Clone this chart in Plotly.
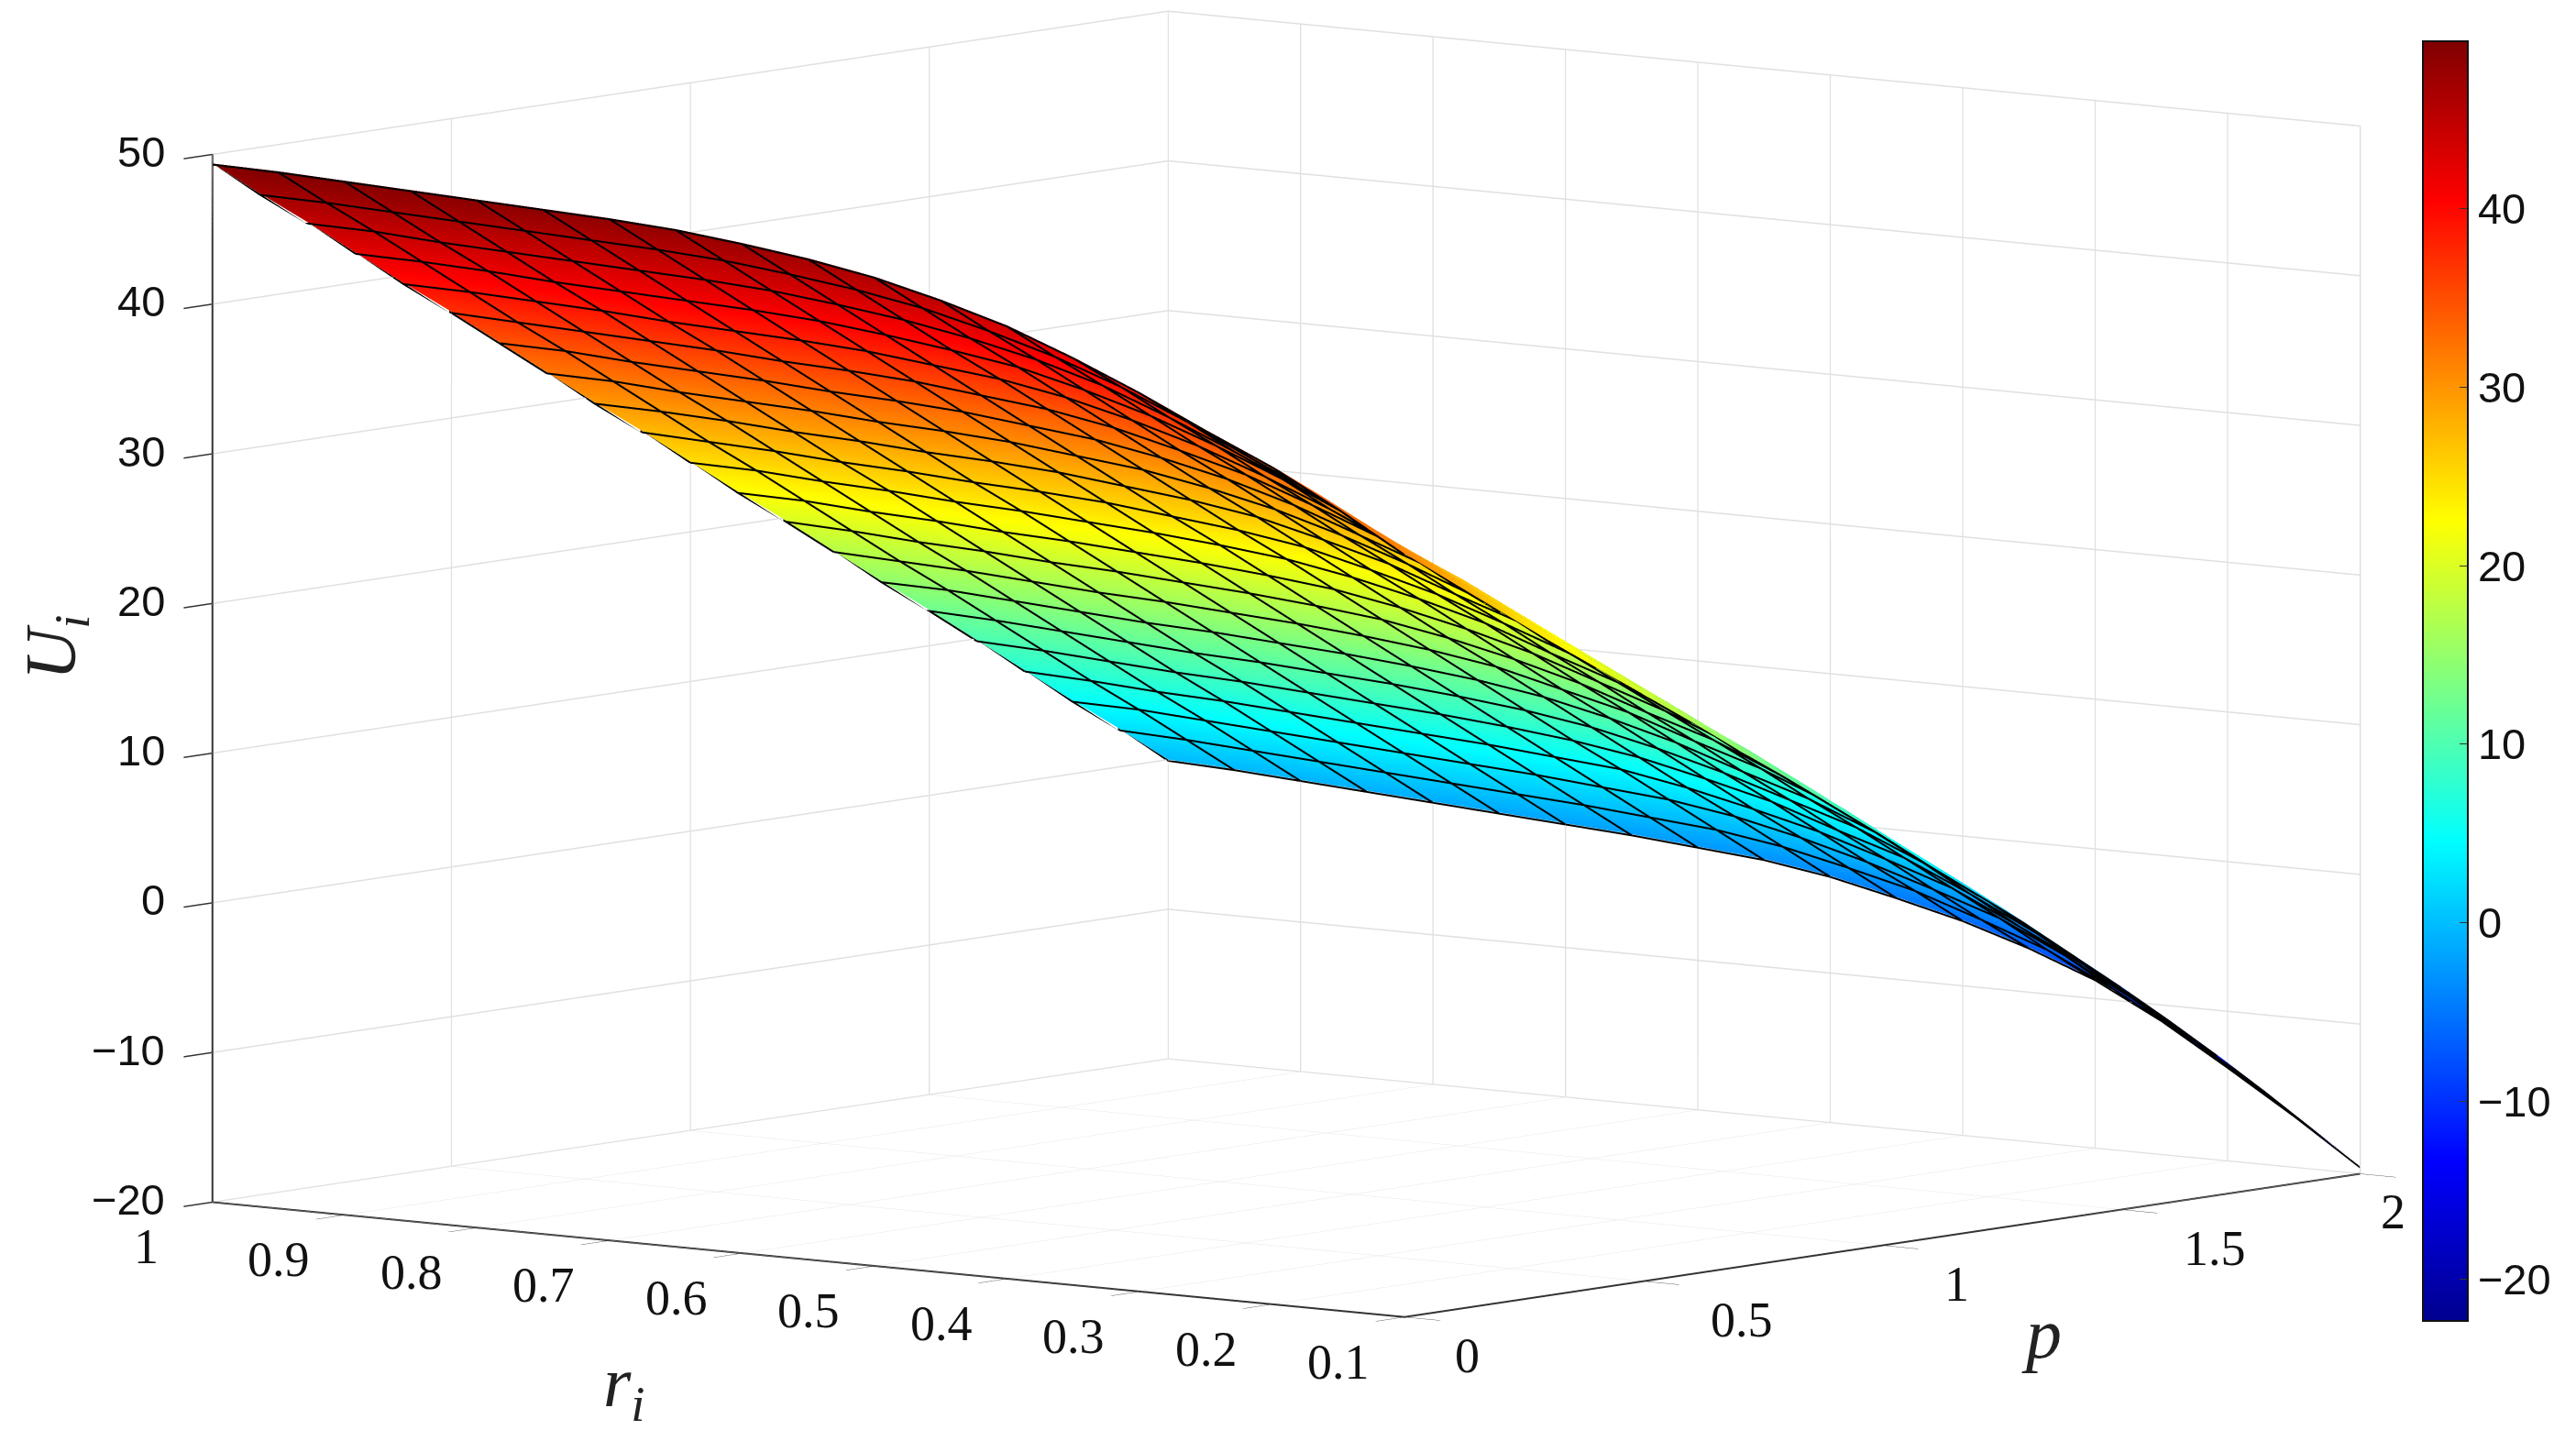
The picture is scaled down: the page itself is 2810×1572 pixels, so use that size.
import plotly.graph_objects as go

p_vals = [0.0, 0.1, 0.2, 0.3, 0.4, 0.5, 0.6, 0.7, 0.8, 0.9, 1.0, 1.1, 1.2, 1.3, 1.4, 1.5, 1.6, 1.7, 1.8, 1.9, 2.0]
r_vals = [0.10, 0.15, 0.20, 0.25, 0.30, 0.35, 0.40, 0.45, 0.50, 0.55, 0.60, 0.65, 0.70, 0.75, 0.80, 0.85, 0.90, 0.95, 1.00]

# one row per r_vals entry
u_r010 = [31.0, 28.6, 26.2, 23.8, 21.5, 19.2, 16.9, 14.5, 12.2, 9.8, 7.4, 4.9, 2.5, 0.1, -2.5, -5.1, -7.8, -10.6, -13.5, -16.5, -19.5]
u_r015 = [33.6, 31.2, 28.8, 26.4, 24.1, 21.7, 19.4, 17.1, 14.7, 12.3, 9.9, 7.4, 4.9, 2.5, 0.0, -2.6, -5.2, -8.0, -10.7, -13.6, -16.5]
u_r020 = [36.0, 33.6, 31.1, 28.7, 26.5, 24.1, 21.7, 19.3, 16.9, 14.5, 12.2, 9.7, 7.3, 4.8, 2.3, -0.2, -2.8, -5.4, -8.1, -10.9, -13.7]
u_r025 = [38.0, 35.6, 33.2, 30.9, 28.4, 26.1, 23.7, 21.4, 19.0, 16.6, 14.1, 11.8, 9.3, 7.0, 4.5, 2.0, -0.6, -3.2, -5.7, -8.4, -11.0]
u_r030 = [40.1, 37.7, 35.2, 32.9, 30.4, 28.1, 25.7, 23.2, 20.9, 18.4, 16.0, 13.6, 11.2, 8.8, 6.3, 3.9, 1.4, -1.1, -3.6, -6.2, -8.7]
u_r035 = [42.0, 39.6, 37.1, 34.7, 32.2, 29.8, 27.3, 24.9, 22.4, 20.0, 17.5, 15.1, 12.6, 10.2, 7.7, 5.3, 2.8, 0.4, -2.1, -4.6, -7.0]
u_r040 = [43.7, 41.2, 38.8, 36.3, 33.8, 31.4, 28.9, 26.4, 24.0, 21.5, 19.1, 16.6, 14.1, 11.7, 9.2, 6.7, 4.3, 1.8, -0.7, -3.1, -5.6]
u_r045 = [45.0, 42.5, 40.1, 37.6, 35.1, 32.6, 30.2, 27.7, 25.2, 22.7, 20.3, 17.8, 15.3, 12.8, 10.4, 7.9, 5.4, 2.9, 0.5, -2.0, -4.5]
u_r050 = [46.1, 43.6, 41.1, 38.7, 36.2, 33.7, 31.2, 28.7, 26.3, 23.8, 21.3, 18.8, 16.3, 13.9, 11.4, 8.9, 6.4, 3.9, 1.5, -1.0, -3.5]
u_r055 = [46.9, 44.4, 41.9, 39.4, 37.0, 34.5, 32.0, 29.5, 27.0, 24.5, 22.1, 19.6, 17.1, 14.6, 12.1, 9.6, 7.1, 4.7, 2.2, -0.3, -2.8]
u_r060 = [47.5, 45.0, 42.5, 40.0, 37.5, 35.0, 32.5, 30.0, 27.5, 25.0, 22.6, 20.1, 17.6, 15.1, 12.6, 10.1, 7.6, 5.1, 2.6, 0.1, -2.4]
u_r065 = [48.0, 45.5, 43.0, 40.5, 38.0, 35.5, 33.0, 30.5, 28.0, 25.5, 23.0, 20.5, 18.0, 15.5, 13.0, 10.5, 8.0, 5.5, 3.0, 0.5, -2.0]
u_r070 = [48.3, 45.8, 43.3, 40.8, 38.3, 35.8, 33.3, 30.8, 28.3, 25.8, 23.3, 20.8, 18.3, 15.8, 13.3, 10.8, 8.3, 5.8, 3.3, 0.8, -1.7]
u_r075 = [48.5, 46.0, 43.5, 41.0, 38.5, 36.0, 33.5, 31.0, 28.5, 26.0, 23.6, 21.1, 18.6, 16.1, 13.6, 11.1, 8.6, 6.1, 3.6, 1.1, -1.4]
u_r080 = [48.7, 46.2, 43.7, 41.2, 38.7, 36.3, 33.8, 31.3, 28.8, 26.3, 23.8, 21.3, 18.8, 16.3, 13.8, 11.3, 8.9, 6.4, 3.9, 1.4, -1.1]
u_r085 = [48.9, 46.4, 43.9, 41.4, 39.0, 36.5, 34.0, 31.5, 29.0, 26.5, 24.1, 21.6, 19.1, 16.6, 14.1, 11.6, 9.1, 6.7, 4.2, 1.7, -0.8]
u_r090 = [49.1, 46.6, 44.1, 41.7, 39.2, 36.7, 34.2, 31.7, 29.3, 26.8, 24.3, 21.8, 19.3, 16.9, 14.4, 11.9, 9.4, 6.9, 4.5, 2.0, -0.5]
u_r095 = [49.3, 46.8, 44.4, 41.9, 39.4, 36.9, 34.5, 32.0, 29.5, 27.0, 24.6, 22.1, 19.6, 17.1, 14.7, 12.2, 9.7, 7.2, 4.8, 2.3, -0.2]
u_r100 = [49.4, 46.9, 44.5, 42.0, 39.5, 37.1, 34.6, 32.1, 29.6, 27.2, 24.7, 22.2, 19.8, 17.3, 14.8, 12.4, 9.9, 7.4, 4.9, 2.5, 0.0]

p_ticks = [0, 0.5, 1, 1.5, 2]
p_labels = ["0", "0.5", "1", "1.5", "2"]
r_ticks = [0.1, 0.2, 0.3, 0.4, 0.5, 0.6, 0.7, 0.8, 0.9, 1]
r_labels = ["0.1", "0.2", "0.3", "0.4", "0.5", "0.6", "0.7", "0.8", "0.9", "1"]
z_ticks = [-20, -10, 0, 10, 20, 30, 40, 50]
z_labels = ["\u221220", "\u221210", "0", "10", "20", "30", "40", "50"]
cb_ticks = [-20, -10, 0, 10, 20, 30, 40]

jet = [[0, "#00008f"], [0.125, "#0000ff"], [0.375, "#00ffff"], [0.625, "#ffff00"], [0.875, "#ff0000"], [1, "#800000"]]

u = [u_r010, u_r015, u_r020, u_r025, u_r030, u_r035, u_r040, u_r045, u_r050, u_r055,
     u_r060, u_r065, u_r070, u_r075, u_r080, u_r085, u_r090, u_r095, u_r100]

grid = "#e0e0e0"
dark = "#333333"
serif = dict(family="Liberation Serif", size=54, color="#111111")
sans = dict(family="Liberation Sans", size=47, color="#111111")

def axis(**kw):
    return dict(title=dict(text=""), showgrid=True, gridcolor=grid, gridwidth=3,
                showline=True, linecolor=dark, linewidth=4, ticks="outside", ticklen=50,
                tickwidth=3, tickcolor=dark, showticklabels=False, zeroline=False,
                showbackground=True, backgroundcolor="white", showspikes=False, **kw)

# tick labels sit on the axis edges, pushed off them in pixels
labels = []
for val, txt in zip(z_ticks, z_labels):
    labels.append(dict(x=0, y=1, z=val, text=txt, showarrow=False, font=sans, xanchor="right", xshift=-50, yshift=3))
for val, txt in zip(r_ticks, r_labels):
    labels.append(dict(x=0, y=val, z=-20, text=txt, showarrow=False, font=serif, xshift=-72, yshift=-49))
for val, txt, dx in zip(p_ticks, p_labels, [68, 107, 81, 102, 36]):
    labels.append(dict(x=val, y=0.1, z=-20, text=txt, showarrow=False, font=serif, xshift=dx, yshift=-42))

fig = go.Figure(go.Surface(
    x=p_vals, y=r_vals, z=u, cmin=-22.3, cmax=49.4, colorscale=jet,
    lighting=dict(ambient=1, diffuse=0, specular=0, fresnel=0, roughness=1),
    hoverinfo="skip",
    colorbar=dict(x=0.9379, xanchor="left", y=0.5326, yanchor="middle", yref="paper",
                  lenmode="pixels", len=1396, thicknessmode="pixels", thickness=49,
                  xpad=0, ypad=0,
                  outlinecolor="#111111", outlinewidth=2, ticks="inside", ticklen=10,
                  tickcolor=dark, tickvals=cb_ticks, tickfont=sans),
))

# mesh lines, one run per row and per column of the table, broken by None
# the camera sees the underside here, so they drop a hair to stop z-fighting
lift = -0.08
mesh_x, mesh_y, mesh_z = [], [], []
for r, row in zip(r_vals, u):
    mesh_x += p_vals + [None]
    mesh_y += [r] * len(p_vals) + [None]
    mesh_z += [v + lift for v in row] + [None]
for j, p in enumerate(p_vals):
    mesh_x += [p] * len(r_vals) + [None]
    mesh_y += r_vals + [None]
    mesh_z += [row[j] + lift for row in u] + [None]
fig.add_trace(go.Scatter3d(x=mesh_x, y=mesh_y, z=mesh_z, mode="lines",
                           line=dict(color="#000000", width=4), hoverinfo="skip", showlegend=False))

title_font = dict(family="Liberation Serif", size=78, color="#222222")
fig.update_layout(
    width=2810, height=1572, paper_bgcolor="white", margin=dict(l=0, r=0, t=0, b=0),
    scene=dict(
        domain=dict(x=[0, 1], y=[0.07, 1]),
        xaxis=axis(range=[0, 2], tickvals=p_ticks),
        yaxis=axis(range=[0.1, 1], tickvals=r_ticks),
        zaxis=axis(range=[-20, 50], tickvals=z_ticks),
        aspectmode="manual", aspectratio=dict(x=2.28, y=2.28, z=1.575),
        camera=dict(eye=dict(x=-4.632, y=-3.731, z=0.70), up=dict(x=0, y=0, z=1),
                    center=dict(x=0.0084, y=-0.0105, z=-0.02), projection=dict(type="orthographic")),
        annotations=labels,
    ),
    annotations=[
        dict(text="<i>U<sub>i</sub></i>", x=1 / 2810, y=1 - 698 / 1572, xref="paper", yref="paper",
             showarrow=False, textangle=-90, font=title_font),
        dict(text="<i>r<sub>i</sub></i>", x=648 / 2810, y=1 - 1556 / 1572, xref="paper", yref="paper",
             showarrow=False, font=title_font),
        dict(text="<i>p</i>", x=2243 / 2810, y=1 - 1492 / 1572, xref="paper", yref="paper",
             showarrow=False, font=title_font),
    ],
)

fig.write_html("out.html")
